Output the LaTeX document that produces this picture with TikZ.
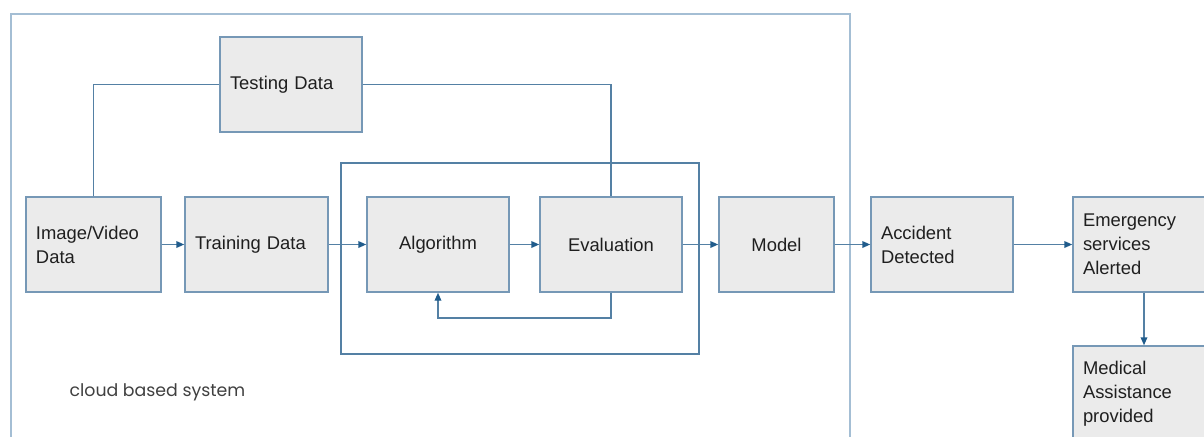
\documentclass[tikz,border=0pt]{standalone}
\usepackage{fontspec}
\setmainfont{Liberation Sans}
\newfontfamily\cloudfont{Poppins}
\usetikzlibrary{arrows.meta}
\definecolor{boxline}{RGB}{118,152,182}
\definecolor{boxfill}{RGB}{235,235,235}
\definecolor{flowline}{RGB}{84,128,164}
\definecolor{tipcolor}{RGB}{32,92,140}
\definecolor{framecolor}{RGB}{164,190,212}
\tikzset{
  blk/.style={draw=boxline, fill=boxfill, line width=1.1pt, minimum height=71.25pt,
    inner sep=7.5pt, text=black!88, font=\fontsize{13.8}{18}\selectfont},
  lblk/.style={blk, align=left, text width=#1},
  cblk/.style={blk, align=center, minimum width=#1},
  flow/.style={draw=flowline, line width=1.1pt},
  arr/.style={flow, -{Triangle[length=6pt, width=5pt, color=tipcolor]}}
}
\begin{document}
\begin{tikzpicture}[x=0.75pt, y=-0.75pt]
\useasboundingbox (0,0) rectangle (1204,436);

% cloud based system frame
\draw[framecolor, line width=1.3pt] (11,445) |- (850,14) -- (850,445);
\draw[flow] (341,163) rectangle (699,354); % training loop

\node[lblk=86.25pt] (img) at (93.5,244.5) {Image/Video\\Data};
\node[lblk=92.25pt] (train) at (256.5,244.5) {Training Data};
\node[lblk=91.5pt] (test) at (291,84.5) {Testing Data};
\node[cblk=106.5pt] (algo) at (438,244.5) {Algorithm};
\node[cblk=106.5pt] (eval) at (611,244.5) {Evaluation};
\node[cblk=86.25pt] (model) at (776.5,244.5) {Model};
\node[lblk=91.5pt] (acc) at (942,244.5) {Accident\\Detected};
\node[lblk=91.5pt] (emer) at (1144,244.5) {Emergency\\services\\Alerted};
\node[lblk=91.5pt] (med) at (1144,393.5) {Medical\\Assistance\\provided};

\node[text=black!75, font=\cloudfont\fontsize{13}{15}\selectfont] (cloud) at (157.5,392) {cloud based system};

% data split
\draw[flow] (img.north) |- (test.west);
\draw[flow] (test.east) -| (eval.north);

% main flow
\draw[arr] (img) -- (train);
\draw[arr] (train) -- (algo);
\draw[arr] (algo) -- (eval);
\draw[arr] (eval) -- (model);
\draw[arr] (model) -- (acc);
\draw[arr] (acc) -- (emer);
\draw[arr] (emer) -- (med);

% feedback
\coordinate (back) at (438,318);
\draw[arr] (eval.south) |- (back) -- (algo.south);
\end{tikzpicture}
\end{document}
